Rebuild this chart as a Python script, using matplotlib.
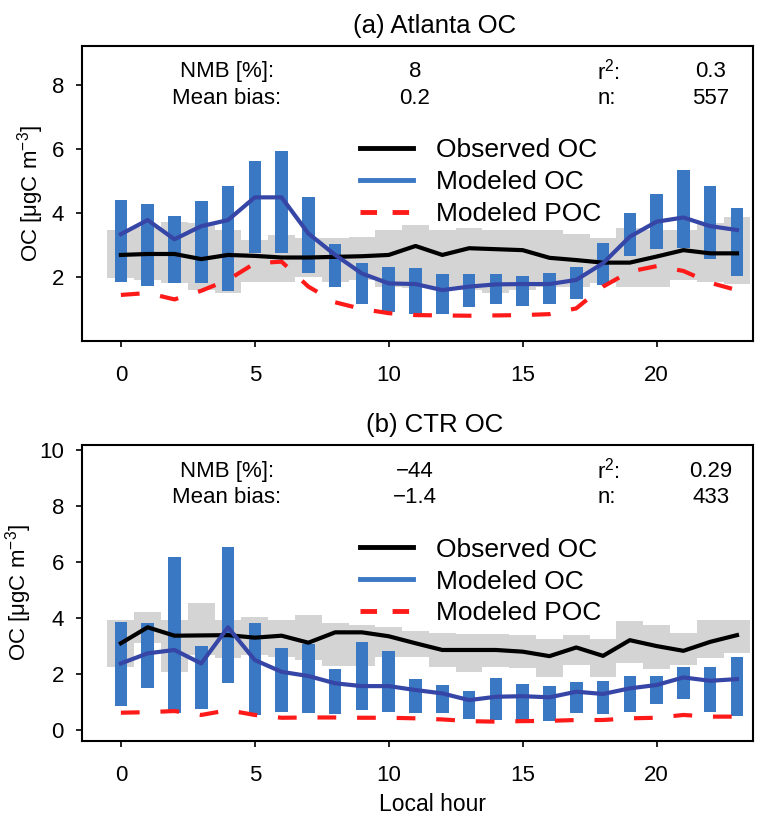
import matplotlib
matplotlib.use("Agg")
import matplotlib.pyplot as plt
from matplotlib.lines import Line2D
import numpy as np

plt.rcParams["font.family"] = ["Liberation Sans", "DejaVu Sans"]
plt.rcParams["mathtext.fontset"] = "custom"
plt.rcParams["mathtext.rm"] = "Liberation Sans"
plt.rcParams["mathtext.it"] = "Liberation Sans:italic"

hours = np.arange(24)

# (a) Atlanta
atl_obs = [2.69, 2.72, 2.72, 2.56, 2.69, 2.66, 2.61, 2.61, 2.63, 2.65, 2.69, 2.97,
           2.69, 2.90, 2.87, 2.84, 2.60, 2.53, 2.45, 2.45, 2.64, 2.84, 2.74, 2.74]
atl_obs_lo = [1.96, 1.90, 1.80, 1.59, 1.49, 1.85, 1.85, 2.01, 1.85, 1.90, 1.70, 1.65,
              1.70, 1.59, 1.49, 1.59, 1.70, 1.70, 1.80, 1.70, 1.70, 1.91, 1.85, 1.78]
atl_obs_hi = [3.47, 3.55, 3.73, 3.68, 3.47, 3.16, 3.31, 3.21, 3.21, 3.26, 3.47, 3.63,
              3.47, 3.52, 3.47, 3.47, 3.47, 3.36, 3.21, 3.52, 3.47, 3.47, 3.68, 3.89]
atl_mod = [3.34, 3.78, 3.18, 3.59, 3.78, 4.49, 4.49, 3.36, 2.69, 2.11, 1.80, 1.78,
           1.59, 1.70, 1.77, 1.78, 1.78, 1.91, 2.43, 3.26, 3.73, 3.86, 3.59, 3.47]
atl_mod_lo = [1.85, 1.73, 1.82, 1.82, 1.57, 2.76, 2.74, 2.14, 1.69, 1.15, 0.92, 0.84,
              0.83, 1.07, 1.16, 1.10, 1.16, 1.30, 1.75, 2.66, 2.87, 2.90, 2.56, 2.03]
atl_mod_hi = [4.41, 4.27, 3.91, 4.38, 4.85, 5.63, 5.94, 4.49, 3.03, 2.45, 2.32, 2.28,
              2.08, 2.08, 2.08, 2.04, 2.14, 2.32, 3.07, 3.99, 4.61, 5.34, 4.85, 4.17]
atl_poc = [1.44, 1.50, 1.30, 1.57, 1.91, 2.43, 2.48, 1.70, 1.21, 1.00, 0.87, 0.81,
           0.80, 0.79, 0.80, 0.81, 0.84, 1.02, 1.70, 2.17, 2.34, 2.19, 1.82, 1.59]

# (b) CTR
ctr_obs = [3.10, 3.67, 3.37, 3.38, 3.39, 3.30, 3.37, 3.12, 3.49, 3.49, 3.35, 3.10,
           2.86, 2.86, 2.86, 2.80, 2.64, 2.95, 2.65, 3.21, 3.00, 2.83, 3.15, 3.39]
ctr_obs_lo = [2.26, 3.10, 2.08, 2.68, 2.56, 2.68, 2.62, 2.50, 2.29, 2.29, 2.62, 2.60,
              2.26, 2.08, 2.26, 2.20, 1.90, 2.32, 1.88, 2.38, 2.17, 2.32, 2.56, 2.74]
ctr_obs_hi = [3.93, 4.23, 3.93, 4.55, 3.93, 4.02, 3.93, 4.11, 3.81, 3.75, 3.69, 3.55,
              3.48, 3.43, 3.43, 3.39, 3.27, 3.39, 3.27, 3.90, 3.75, 3.45, 3.93, 3.93]
ctr_mod = [2.38, 2.74, 2.86, 2.38, 3.67, 2.50, 2.08, 1.93, 1.67, 1.57, 1.57, 1.43,
           1.31, 1.07, 1.19, 1.21, 1.17, 1.37, 1.29, 1.49, 1.61, 1.88, 1.76, 1.82]
ctr_mod_lo = [0.87, 1.51, 0.62, 0.74, 1.69, 0.54, 0.65, 0.60, 0.56, 0.71, 0.65, 0.62,
              0.62, 0.38, 0.36, 0.36, 0.33, 0.60, 0.56, 0.65, 0.93, 1.10, 0.63, 0.50]
ctr_mod_hi = [3.87, 3.81, 6.19, 3.01, 6.52, 3.81, 2.92, 3.07, 2.17, 3.15, 2.83, 1.82,
              1.61, 1.39, 1.85, 1.64, 1.57, 1.73, 1.76, 1.93, 1.93, 2.24, 2.26, 2.62]
ctr_poc = [0.62, 0.64, 0.68, 0.54, 0.71, 0.54, 0.44, 0.45, 0.45, 0.44, 0.44, 0.42,
           0.38, 0.32, 0.30, 0.32, 0.33, 0.36, 0.36, 0.42, 0.44, 0.54, 0.48, 0.48]

titles = ["(a) Atlanta OC", "(b) CTR OC"]
stats = [("8", "0.2", "0.3", "557"), ("\u221244", "\u22121.4", "0.29", "433")]

GRAY = "#d4d4d4"
BAR_BLUE = "#3b78c4"
LINE_BLUE = "#3646a6"
RED = "#ff1a1a"


def draw_panel(ax, obs, lo, hi, mod, mlo, mhi, poc, title, st, ylim, yticks):
    lo, hi, mlo, mhi = map(np.array, (lo, hi, mlo, mhi))
    ax.bar(hours, hi - lo, bottom=lo, width=1.0, color=GRAY, zorder=1)
    ax.bar(hours, mhi - mlo, bottom=mlo, width=0.47, color=BAR_BLUE, zorder=2)
    ax.plot(hours, obs, color="black", lw=3, zorder=4)
    ax.plot(hours, mod, color=LINE_BLUE, lw=3, zorder=4)
    ax.plot(hours, poc, color=RED, lw=3, dashes=(4.5, 5), zorder=3)

    ax.set_xlim(-1.45, 23.6)
    ax.set_ylim(*ylim)
    ax.set_xticks([0, 5, 10, 15, 20])
    ax.set_yticks(yticks)
    ax.tick_params(labelsize=16, length=4, width=1.2)
    ax.tick_params(axis="x", pad=13)
    ax.tick_params(axis="y", pad=9)
    for s in ax.spines.values():
        s.set_linewidth(1.5)
    ax.set_ylabel("OC [\u03bcgC m$^{-3}$]", fontsize=16, labelpad=4)
    ax.text(0.525, 1.044, title, transform=ax.transAxes, ha="center",
            va="baseline", fontsize=18.5)

    kw = dict(transform=ax.transAxes, fontsize=16, va="center")
    ax.text(0.216, 0.912, "NMB [%]:", ha="center", **kw)
    ax.text(0.216, 0.822, "Mean bias:", ha="center", **kw)
    ax.text(0.496, 0.912, st[0], ha="center", **kw)
    ax.text(0.496, 0.822, st[1], ha="center", **kw)
    ax.text(0.768, 0.912, "r$^2$:", ha="left", **kw)
    ax.text(0.768, 0.822, "n:", ha="left", **kw)
    ax.text(0.937, 0.912, st[2], ha="center", **kw)
    ax.text(0.937, 0.822, st[3], ha="center", **kw)

    handles = [
        Line2D([], [], color="black", lw=3.5),
        Line2D([], [], color=BAR_BLUE, lw=3.5),
        Line2D([], [], color=RED, lw=3.5, dashes=(3.4, 3.2)),
    ]
    ax.legend(handles, ["Observed OC", "Modeled OC", "Modeled POC"],
              loc="upper left", bbox_to_anchor=(0.414, 0.687), frameon=False,
              fontsize=19, handlelength=2.0, handletextpad=0.9,
              labelspacing=0.3, borderpad=0, borderaxespad=0)


fig = plt.figure(figsize=(7.71, 8.16), dpi=100)
ax1 = fig.add_axes([0.1064, 0.5821, 0.8703, 0.3615])
ax2 = fig.add_axes([0.1064, 0.0919, 0.8703, 0.3628])

draw_panel(ax1, atl_obs, atl_obs_lo, atl_obs_hi, atl_mod, atl_mod_lo, atl_mod_hi,
           atl_poc, titles[0], stats[0], (0, 9.22), [2, 4, 6, 8])
draw_panel(ax2, ctr_obs, ctr_obs_lo, ctr_obs_hi, ctr_mod, ctr_mod_lo, ctr_mod_hi,
           ctr_poc, titles[1], stats[1], (-0.39, 10.18), [0, 2, 4, 6, 8, 10])
ax2.set_xlabel("Local hour", fontsize=16.5)
ax2.xaxis.set_label_coords(0.523, -0.175)

fig.savefig("out.png", dpi=100)
